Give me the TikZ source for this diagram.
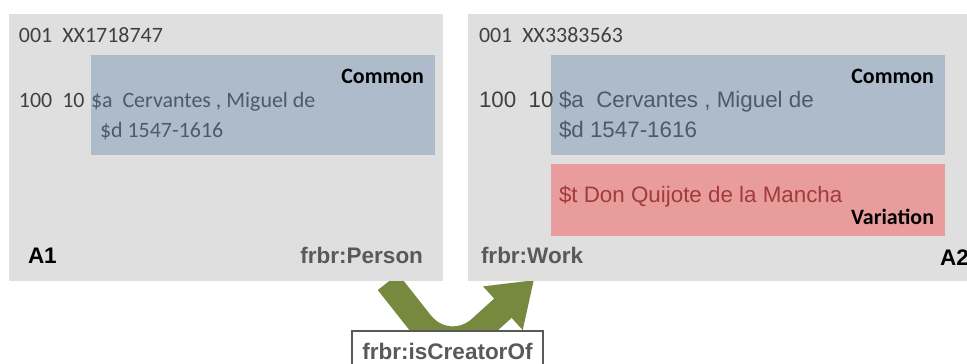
\documentclass[tikz,border=0pt]{standalone}
\usepackage{fontspec}
\setmainfont{Carlito}
\newfontfamily\arialfont{Liberation Sans}
\usetikzlibrary{arrows.meta,backgrounds}
\definecolor{boxgray}{HTML}{DFDFDF}
\definecolor{commonblue}{HTML}{ADBBCA}
\definecolor{varred}{HTML}{E99C9C}
\definecolor{flowgreen}{HTML}{76893F}
\definecolor{darktext}{HTML}{404040}
\definecolor{slatetext}{HTML}{4E5A66}
\definecolor{redtext}{HTML}{A23B3B}
\definecolor{taggray}{HTML}{595959}
\tikzset{
	every node/.style = {inner sep=0pt, outer sep=0pt},
	record/.style = {fill=boxgray, minimum width=#1*0.025cm, minimum height=267*0.025cm},
	common/.style = {fill=commonblue, minimum width=#1*0.025cm, minimum height=100*0.025cm},
	variation/.style = {fill=varred, minimum width=394*0.025cm, minimum height=72*0.025cm},
	ctext/.style = {font=\fontsize{15.6}{18}\selectfont, text=darktext, anchor=base west},
	atext/.style = {font=\arialfont\fontsize{15.9}{18}\selectfont, text=slatetext, anchor=base west},
	kind/.style = {font=\bfseries\fontsize{15.6}{18}\selectfont, anchor=base east},
	tag/.style = {font=\arialfont\bfseries\fontsize{16}{18}\selectfont},
	relation/.style = {draw=taggray, fill=white, line width=0.8pt, text=taggray,
		font=\arialfont\bfseries\fontsize{16}{18}\selectfont,
		minimum width=191*0.025cm, minimum height=40*0.025cm},
	flow/.style = {draw=flowgreen, line width=0.65cm, rounded corners=1.1cm,
		-{Triangle[length=1.05cm, width=1.4cm]}}
}
\begin{document}
\begin{tikzpicture}[x=0.025cm, y=-0.025cm]
	\useasboundingbox (0,0) rectangle (967,363);
	\clip (0,0) rectangle (967,363);
	% the two records
	\node[record=434] (A1) at (226,147.5) {};
	\node[record=522] (A2) at (729,147.5) {};
	\node[common=344] (common1) at (263,105) {};
	\node[common=394] (common2) at (748,105) {};
	\node[variation] (var2) at (748,200) {};
	% A1
	\node[ctext] (id1) at (19,42) {001\ \ XX1718747};
	\node[ctext] (field1) at (19,107) {100\ \ 10};
	\node[ctext, text=slatetext] (name1) at (91,107) {\$a\ \ Cervantes , Miguel de};
	\node[ctext, text=slatetext] (date1) at (100,137) {\$d 1547-1616};
	\node[kind] (kind1) at (424,83) {Common};
	\node[tag, anchor=base west] (label1) at (28,263) {A1};
	\node[tag, anchor=base east, text=taggray] (type1) at (423,263) {frbr:Person};
	% A2
	\node[ctext] (id2) at (479,42) {001\ \ XX3383563};
	\node[atext, text=darktext] (field2) at (479,107) {100\ \ 10};
	\node[atext] (name2) at (559,107) {\$a\ \ Cervantes , Miguel de};
	\node[atext] (date2) at (559,137) {\$d 1547-1616};
	\node[kind] (kind2) at (934,83) {Common};
	\node[atext, text=redtext] (title2) at (559,202) {\$t Don Quijote de la Mancha};
	\node[kind] (kind3) at (934,224) {Variation};
	\node[tag, anchor=base west, text=taggray] (type2) at (481,263) {frbr:Work};
	\node[tag, anchor=base west] (label2) at (940,265) {A2};
	% relation
	\coordinate (from) at (388,282);
	\coordinate (to) at (534,280);
	\begin{scope}[on background layer]
		\draw[flow] (from) -- (448,358) -- (to);
	\end{scope}
	\node[relation] (rel) at (447.5,351) {frbr:isCreatorOf};
\end{tikzpicture}
\end{document}
